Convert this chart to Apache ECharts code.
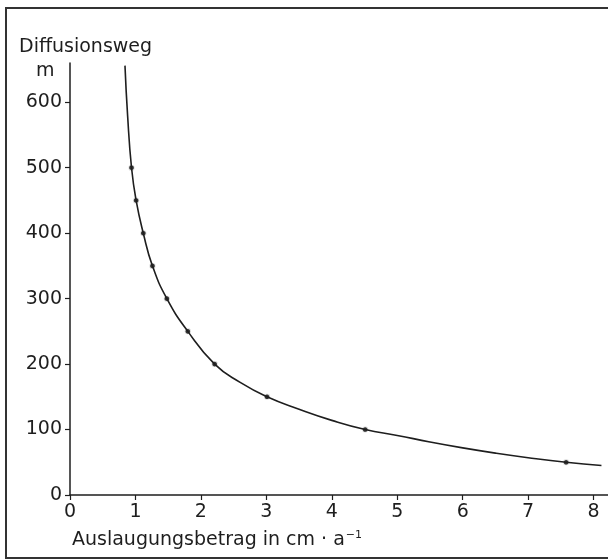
<!DOCTYPE html>
<html>
<head>
<meta charset="utf-8">
<script src="https://cdn.jsdelivr.net/npm/echarts@6/dist/echarts.min.js"></script>
<style>
html,body{margin:0;padding:0;background:#fff;}
#chart{width:608px;height:560px;}
</style>
</head>
<body>
<div id="chart"></div>
<script>
// Curve: x = Auslaugungsbetrag (cm/a), y = Diffusionsweg (m)
const curveX = [0.84, 0.88, 0.94, 1.01, 1.12, 1.26, 1.48, 1.80, 2.21, 2.6, 3.01, 3.5, 4.0, 4.51, 5.0, 5.5, 6.0, 6.5, 7.0, 7.58, 8.12];
const curveY = [656, 580, 500, 450, 400, 350, 300, 250, 200, 172, 150, 131, 114, 100, 91, 81, 72, 64, 57, 50, 45];
// Marked points on the curve
const markX = [0.94, 1.01, 1.12, 1.26, 1.48, 1.80, 2.21, 3.01, 4.51, 7.58];
const markY = [500, 450, 400, 350, 300, 250, 200, 150, 100, 50];
const xTicks = [0, 1, 2, 3, 4, 5, 6, 7, 8];
const yTicks = [0, 100, 200, 300, 400, 500, 600];

const FONT = 'DejaVu Sans';
const INK = '#1e1e1e';

const chart = echarts.init(document.getElementById('chart'), null, {renderer: 'canvas'});
chart.setOption({
  animation: false,
  backgroundColor: '#fff',
  grid: {left: 70, right: 0, top: 63, bottom: 65},
  xAxis: {
    type: 'value', min: 0, max: 8.22,
    axisLine: {show: true, lineStyle: {color: INK, width: 1.5}},
    axisTick: {show: true, customValues: xTicks, length: 5, lineStyle: {color: INK, width: 1.2}},
    axisLabel: {customValues: xTicks, color: INK, fontFamily: FONT, fontSize: 19, margin: 8},
    splitLine: {show: false}
  },
  yAxis: {
    type: 'value', min: 0, max: 660,
    axisLine: {show: true, lineStyle: {color: INK, width: 1.5}},
    axisTick: {show: true, customValues: yTicks, length: 5, lineStyle: {color: INK, width: 1.2}},
    axisLabel: {customValues: yTicks, color: INK, fontFamily: FONT, fontSize: 19, margin: 8},
    splitLine: {show: false}
  },
  series: [
    {
      type: 'line', smooth: 0.5, showSymbol: false,
      data: curveX.map((x, i) => [x, curveY[i]]),
      lineStyle: {color: INK, width: 1.6}
    },
    {
      type: 'scatter', symbol: 'circle', symbolSize: 6,
      data: markX.map((x, i) => [x, markY[i]]),
      itemStyle: {color: '#000', borderColor: '#fff', borderWidth: 1.4}
    }
  ],
  graphic: [
    {type: 'rect', shape: {x: 6, y: 8, width: 620, height: 550},
     style: {fill: 'none', stroke: '#333', lineWidth: 2}},
    {type: 'text', left: 19, top: 38,
     style: {text: 'Diffusionsweg', fill: INK, font: '19px "DejaVu Sans"'}},
    {type: 'text', left: 36, top: 62,
     style: {text: 'm', fill: INK, font: '19px "DejaVu Sans"'}},
    {type: 'text', left: 72, top: 530,
     style: {
       text: '{t|Auslaugungsbetrag in cm · a}{s|−1}',
       rich: {
         t: {fontFamily: FONT, fontSize: 19, fill: INK, color: INK},
         s: {fontFamily: FONT, fontSize: 11, fill: INK, color: INK, verticalAlign: 'top', padding: [0, 0, 10, 1]}
       }
     }}
  ]
});
</script>
</body>
</html>
